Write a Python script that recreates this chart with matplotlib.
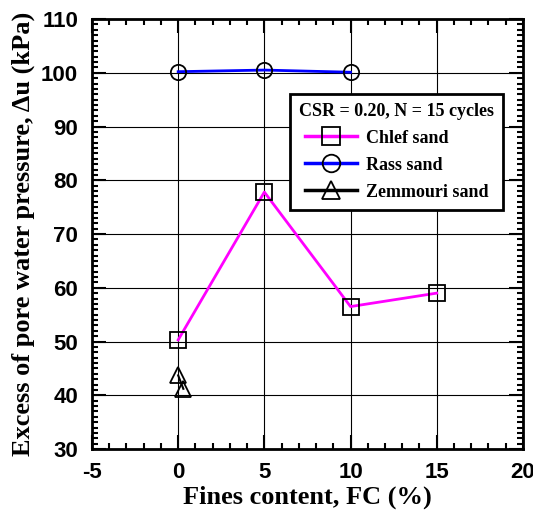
import matplotlib.pyplot as plt
from matplotlib.ticker import MultipleLocator

chlef_fc = [0, 5, 10, 15]
chlef_du = [50.3, 77.8, 56.5, 59.0]
rass_fc = [0, 5, 10]
rass_du = [100.2, 100.5, 100.1]
zem_fc = [0, 0.3]
zem_du = [43.7, 41.2]

serif = ['Liberation Serif', 'DejaVu Serif']
sans = ['Liberation Sans', 'DejaVu Sans']
plt.rcParams['axes.unicode_minus'] = False

fig = plt.figure(figsize=(5.33, 5.18), dpi=100)
ax = fig.add_axes([0.1726, 0.1332, 0.8084, 0.8301])

ax.plot(chlef_fc, chlef_du, color='magenta', lw=2, marker='s', ms=11,
        mfc='none', mec='black', mew=1.3, label='Chlef sand', zorder=3)
ax.plot(rass_fc, rass_du, color='blue', lw=2, marker='o', ms=11,
        mfc='none', mec='black', mew=1.3, label='Rass sand', zorder=3)
ax.plot(zem_fc, zem_du, color='black', lw=1.5, marker='^', ms=11,
        mfc='none', mec='black', mew=1.3, label='Zemmouri sand', zorder=3)

ax.set_xlim(-5, 20)
ax.set_ylim(30, 110)
ax.xaxis.set_major_locator(MultipleLocator(5))
ax.xaxis.set_minor_locator(MultipleLocator(1))
ax.yaxis.set_major_locator(MultipleLocator(10))
ax.yaxis.set_minor_locator(MultipleLocator(1))
ax.grid(True, which='major', color='black', lw=0.8)

ax.tick_params(which='both', direction='in', top=True, right=True, width=1.5)
ax.tick_params(which='major', length=10)
ax.tick_params(which='minor', length=4)
ax.tick_params(axis='x', pad=9)
ax.tick_params(axis='y', pad=10)
for s in ax.spines.values():
    s.set_linewidth(2)

for lab in ax.get_xticklabels() + ax.get_yticklabels():
    lab.set_family(sans)
    lab.set_fontweight('bold')
    lab.set_fontsize(16)

ax.set_xlabel('Fines content, FC (%)', family=serif, fontweight='bold', fontsize=19,
              labelpad=2)
ax.set_ylabel('Excess of pore water pressure, \u0394u (kPa)', family=serif,
              fontweight='bold', fontsize=19, labelpad=4)

leg = ax.legend(loc='upper right', bbox_to_anchor=(0.954, 0.826), borderaxespad=0,
                title='CSR = 0.20, N = 15 cycles', fancybox=False,
                edgecolor='black', framealpha=1, handlelength=2.9, handletextpad=0.5,
                markerscale=1.15,
                prop={'family': serif, 'weight': 'bold', 'size': 13},
                title_fontproperties={'family': serif, 'weight': 'bold', 'size': 13},
                borderpad=0.5, labelspacing=0.55)
leg.get_frame().set_linewidth(2)
for line in leg.get_lines():
    line.set_linewidth(2.5)

fig.savefig('out.png', dpi=100)
